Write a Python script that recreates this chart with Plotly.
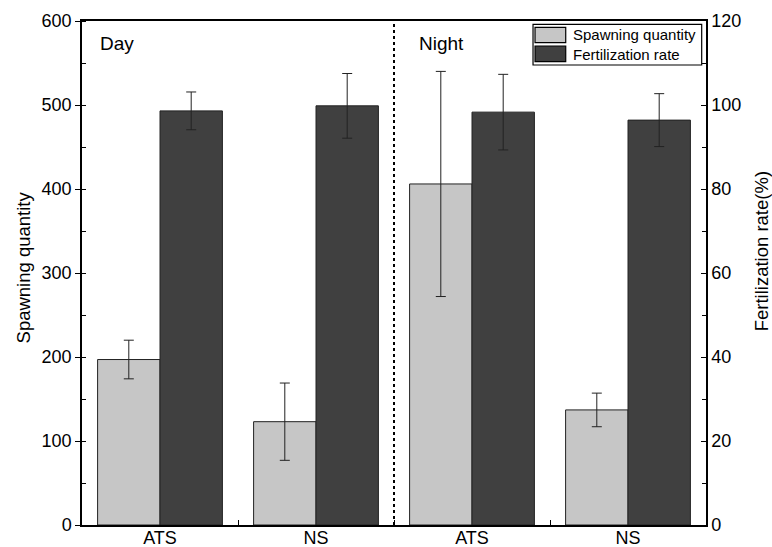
import plotly.graph_objects as go

categories = ["ATS", "NS", "ATS", "NS"]
series_names = ["Spawning quantity", "Fertilization rate"]
spawning = [197, 123, 406, 137]
spawning_err = [23, 46, 134, 20]
fert = [98.6, 99.8, 98.3, 96.4]
fert_err = [4.5, 7.7, 9.0, 6.3]
x = [0, 1, 2, 3]

FONT = "Liberation Sans, Arial, sans-serif"
LIGHT = "#c6c6c6"
DARK = "#404040"
EDGE = "#222222"

fig = go.Figure()
fig.add_trace(go.Bar(
    x=x, y=spawning, name=series_names[0], width=0.4, offset=-0.4,
    marker=dict(color=LIGHT, line=dict(color=EDGE, width=1)),
    error_y=dict(type="data", array=spawning_err, color=EDGE, thickness=1, width=5),
))
fig.add_trace(go.Bar(
    x=x, y=fert, name=series_names[1], width=0.4, offset=0, yaxis="y2",
    marker=dict(color=DARK, line=dict(color=EDGE, width=1)),
    error_y=dict(type="data", array=fert_err, color=EDGE, thickness=1, width=5),
))

axis_common = dict(showline=True, linecolor="black", linewidth=1.5,
                   ticklen=5, tickcolor="black", showgrid=False, zeroline=False,
                   automargin=False,
                   tickfont=dict(size=18, family=FONT, color="black"))

fig.update_layout(
    width=772, height=547,
    margin=dict(l=82, r=66, t=21, b=22),
    plot_bgcolor="white", paper_bgcolor="white",
    font=dict(family=FONT, color="black"),
    showlegend=False,
    xaxis=dict(range=[-0.5, 3.5], tickvals=x, ticktext=categories, ticks="",
               showline=True, linecolor="black", linewidth=1.5, mirror=True,
               showgrid=False, zeroline=False, automargin=False,
               ticklabelstandoff=-4,
               tickfont=dict(size=18, family=FONT, color="black"),
               minor=dict(tickvals=[0.5, 1.5, 2.5], ticks="inside", ticklen=5, tickcolor="black")),
    yaxis=dict(range=[0, 600], dtick=100, mirror=True, ticks="outside",
               minor=dict(dtick=50, ticks="inside", ticklen=4, tickcolor="black"),
               **axis_common),
    yaxis2=dict(range=[0, 120], dtick=20, overlaying="y", side="right", ticks="inside",
                minor=dict(dtick=10, ticks="inside", ticklen=4, tickcolor="black"),
                **axis_common),
)

# day / night divider
fig.add_shape(type="line", x0=1.5, x1=1.5, y0=0, y1=1, xref="x", yref="paper",
              line=dict(color="black", width=2, dash="dot"))
fig.add_annotation(x=-0.4, y=0.955, xref="x", yref="paper", text="Day", showarrow=False,
                   xanchor="left", yanchor="middle", font=dict(size=19, family=FONT))
fig.add_annotation(x=1.65, y=0.955, xref="x", yref="paper", text="Night", showarrow=False,
                   xanchor="left", yanchor="middle", font=dict(size=19, family=FONT))

# axis titles
fig.add_annotation(x=0, xshift=-58.5, y=0.51, xref="paper", yref="paper",
                   xanchor="center", yanchor="middle",
                   text="Spawning quantity", textangle=-90, showarrow=False,
                   font=dict(size=18.5, family=FONT))
fig.add_annotation(x=1, xshift=55, y=0.543, xref="paper", yref="paper",
                   xanchor="center", yanchor="middle",
                   text="Fertilization rate(%)", textangle=-90, showarrow=False,
                   font=dict(size=18.5, family=FONT))

# legend box (drawn)
fig.add_shape(type="rect", xref="paper", yref="paper", x0=0.7228, x1=0.9931,
              y0=0.9127, y1=0.9935, line=dict(color="black", width=1.2), fillcolor="white")
legend_rows = [(0.9569, 0.9875, LIGHT, 0.9732), (0.9192, 0.9504, DARK, 0.9345)]
for name, (y0, y1, col, ty) in zip(series_names, legend_rows):
    fig.add_shape(type="rect", xref="paper", yref="paper", x0=0.7260, x1=0.7752,
                  y0=y0, y1=y1, line=dict(color="black", width=1.2), fillcolor=col)
    fig.add_annotation(x=0.7837, y=ty, xref="paper", yref="paper", text=name,
                       showarrow=False, xanchor="left", yanchor="middle",
                       font=dict(size=15, family=FONT))

fig.write_html("out.html", config={"displayModeBar": False},
               post_script="document.body.style.margin='0';document.body.style.overflow='hidden';")
